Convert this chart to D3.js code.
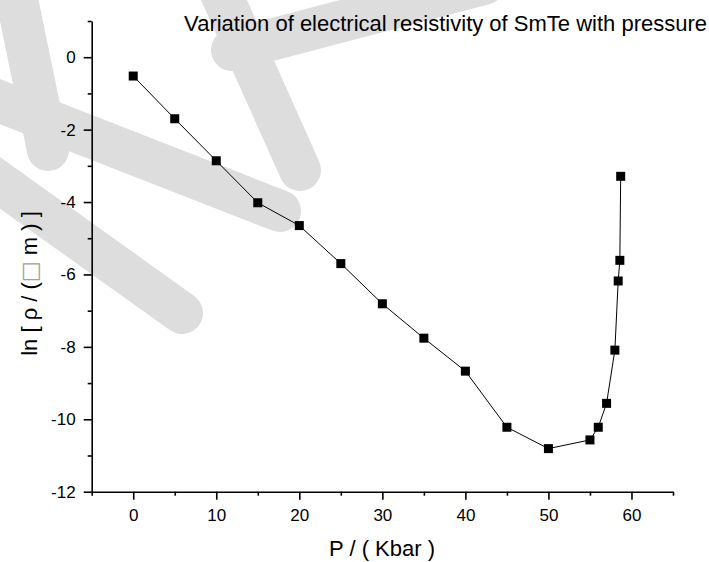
<!DOCTYPE html>
<html>
<head>
<meta charset="utf-8">
<script src="https://cdn.jsdelivr.net/npm/d3@7"></script>
<style>
  html, body { margin: 0; padding: 0; background: #ffffff; }
  svg { display: block; }
  text { font-family: "Liberation Sans", Arial, sans-serif; fill: #000; }
</style>
</head>
<body>
<div id="chart"></div>
<script>
// ---- data ----
const pressure = [0, 5, 10, 15, 20, 25, 30, 35, 40, 45, 50, 55, 56, 57, 58, 58.4, 58.6, 58.7];
const lnRho = [-0.52, -1.70, -2.86, -4.02, -4.65, -5.70, -6.81, -7.76, -8.67, -10.22, -10.81, -10.57, -10.22, -9.56, -8.09, -6.18, -5.61, -3.29];
const xMajorTicks = [0, 10, 20, 30, 40, 50, 60];
const xMinorTicks = [-5, 5, 15, 25, 35, 45, 55, 65];
const yMajorTicks = [0, -2, -4, -6, -8, -10, -12];
const yMinorTicks = [1, -1, -3, -5, -7, -9, -11];
const titleText = "Variation of electrical resistivity of SmTe with pressure";
const xLabelText = "P / ( Kbar )";
const yLabelParts = ["ln [ \u03C1 / (", "\u25A1", " m ) ]"];

// decorative background watermark strokes (pixel space)
const watermark = [
  [[12, -25], [48, 150]],
  [[-60, 140], [182, 313]],
  [[-40, 86], [280, 211]],
  [[215, -20], [300, 170]],
  [[232, 50], [484, -16]]
];

const W = 709, H = 562;
const svg = d3.select("#chart").append("svg").attr("width", W).attr("height", H);

const x = d3.scaleLinear().domain([-5, 65]).range([91.7, 673]);
const y = d3.scaleLinear().domain([-12, 1]).range([491.7, 21]);

// watermark
svg.append("g").selectAll("line").data(watermark).join("line")
  .attr("x1", d => d[0][0]).attr("y1", d => d[0][1])
  .attr("x2", d => d[1][0]).attr("y2", d => d[1][1])
  .attr("stroke", "#dddddd").attr("stroke-width", 42).attr("stroke-linecap", "round");

// axes
const fs = 17;
const fmt = d => String(d);
const xAxis = d3.axisBottom(x).tickValues(xMajorTicks).tickSize(8).tickPadding(9).tickFormat(fmt);
const xMinor = d3.axisBottom(x).tickValues(xMinorTicks).tickSize(4).tickFormat("");
const yAxis = d3.axisLeft(y).tickValues(yMajorTicks).tickSize(8).tickPadding(8).tickFormat(fmt);
const yMinor = d3.axisLeft(y).tickValues(yMinorTicks).tickSize(4).tickFormat("");

function styleAxis(g) {
  g.select(".domain").attr("stroke", "#000").attr("stroke-width", 1.6);
  g.selectAll(".tick line").attr("stroke", "#000").attr("stroke-width", 1.6);
  g.selectAll(".tick text").style("font-family", '"Liberation Sans", Arial, sans-serif').style("font-size", fs + "px").attr("fill", "#000");
}

svg.append("g").attr("transform", `translate(0,${y(-12)})`).call(xMinor).call(styleAxis).select(".domain").remove();
svg.append("g").attr("transform", `translate(${x(-5)},0)`).call(yMinor).call(styleAxis).select(".domain").remove();
svg.append("g").attr("transform", `translate(0,${y(-12)})`).call(xAxis.tickSizeOuter(0)).call(styleAxis);
svg.append("g").attr("transform", `translate(${x(-5)},0)`).call(yAxis.tickSizeOuter(0)).call(styleAxis);

// line + markers
const pts = pressure.map((p, i) => [p, lnRho[i]]);
svg.append("path").datum(pts)
  .attr("fill", "none").attr("stroke", "#000").attr("stroke-width", 1)
  .attr("d", d3.line().x(d => x(d[0])).y(d => y(d[1])));

const ms = 9;
svg.append("g").selectAll("rect").data(pts).join("rect")
  .attr("x", d => x(d[0]) - ms / 2).attr("y", d => y(d[1]) - ms / 2)
  .attr("width", ms).attr("height", ms).attr("fill", "#000");

// title
svg.append("text").attr("x", 707).attr("y", 31).attr("text-anchor", "end")
  .style("font-size", "22px").text(titleText);

// x label
svg.append("text").attr("x", 382).attr("y", 556).attr("text-anchor", "middle")
  .style("font-size", "22px").text(xLabelText);

// y label
const yl = svg.append("text").attr("transform", "translate(37,283.5) rotate(-90)").attr("text-anchor", "middle")
  .style("font-size", "22px");
yl.selectAll("tspan").data(yLabelParts).join("tspan")
  .attr("fill", (d, i) => i === 1 ? "#a0a0a0" : "#000")
  .style("font-family", (d, i) => i === 1 ? '"DejaVu Sans", sans-serif' : null)
  .text(d => d);
</script>
</body>
</html>
